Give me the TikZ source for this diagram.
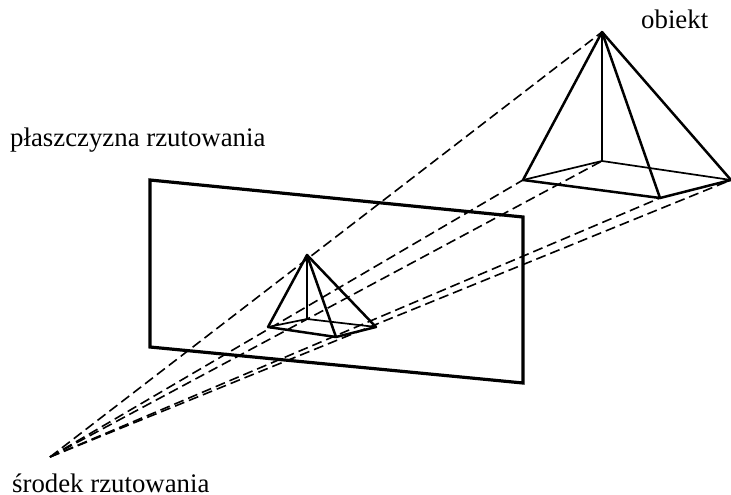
\documentclass[tikz,border=0pt]{standalone}
\usepackage{fontspec}
\setmainfont{Liberation Serif}
\tikzset{
  thickedge/.style={line width=2.5pt,line cap=round,line join=round},
  thinedge/.style={line width=1.7pt,line cap=round},
  planeedge/.style={line width=3.2pt,line join=miter},
  ray/.style={line width=1.6pt,dash pattern=on 10pt off 5pt},
  lbl/.style={inner sep=0pt,anchor=base west,font=\fontsize{26.8}{30}\selectfont}
}
\begin{document}
\begin{tikzpicture}[x=1pt,y=-1pt]
\useasboundingbox (0,0) rectangle (731,495);
\coordinate (S) at (50,457);
\coordinate (A) at (602,32);
\coordinate (BL) at (523,180);
\coordinate (BF) at (660,198);
\coordinate (BR) at (731,180);
\coordinate (BB) at (602,161);
\coordinate (a) at (307,255);
\coordinate (bl) at (268,327);
\coordinate (bf) at (336,337);
\coordinate (br) at (376,327);
\coordinate (bb) at (307,319);
\coordinate (P1) at (150,180);
\coordinate (P2) at (523,217);
\coordinate (P3) at (523,383);
\coordinate (P4) at (150,347);
% plane
\draw[planeedge] (P1) -- (P2) -- (P3) -- (P4) -- cycle;
% rays
\foreach \t in {A,BL,BF,BR,BB} \draw[ray] (S) -- (\t);
% object
\draw[thickedge] (BL) -- (A) -- (BR) -- (BF) -- (BL);
\draw[thickedge] (A) -- (BF);
\draw[thinedge] (A) -- (BB) (BL) -- (BB) -- (BR);
% image
\draw[thickedge] (bl) -- (a) -- (br) -- (bf) -- (bl);
\draw[thickedge] (a) -- (bf);
\draw[thinedge] (a) -- (bb) (bl) -- (bb) -- (br);
% labels
\node[lbl] (obiekt) at (641,29) {obiekt};
\node[lbl] (plane) at (10,146) {płaszczyzna rzutowania};
\node[lbl] (centre) at (12,492) {środek rzutowania};
\end{tikzpicture}
\end{document}
